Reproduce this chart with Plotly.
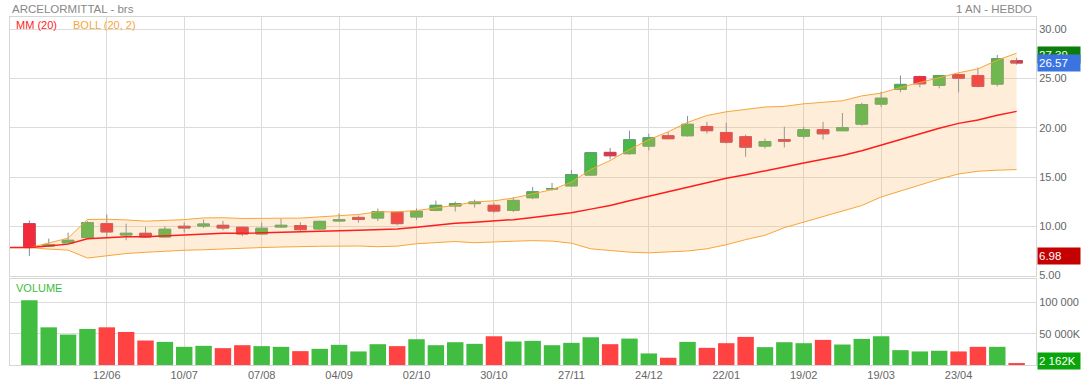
import plotly.graph_objects as go
import pandas as pd

# ---------------- data ----------------
opens = [10.27, 8.00, 8.31, 8.85, 10.27, 9.12, 9.29, 8.92, 10.00, 10.03,
         10.10, 9.90, 9.22, 9.93, 10.07, 9.73, 10.54, 10.90, 10.84, 11.42,
         10.95, 11.62, 12.06, 12.30, 12.13, 11.62, 12.90, 13.80, 14.10, 15.20,
         17.50, 17.37, 18.14, 19.19, 19.19, 20.13, 19.52, 19.09, 18.14, 18.80,
         19.15, 19.80, 19.70, 20.37, 22.40, 23.90, 25.20, 24.30, 25.40, 25.30,
         24.43, 26.80]
highs = [10.60, 8.75, 9.36, 10.55, 11.20, 10.27, 9.93, 10.00, 10.37, 10.68,
         10.55, 10.00, 10.37, 10.78, 10.40, 10.55, 11.31, 11.10, 11.80, 11.55,
         11.80, 12.60, 12.50, 12.70, 12.40, 12.95, 14.00, 14.40, 15.70, 17.50,
         17.95, 19.70, 19.40, 19.55, 21.20, 20.60, 20.50, 19.30, 18.90, 20.10,
         20.10, 20.60, 21.50, 22.55, 23.65, 25.30, 25.30, 25.30, 25.50, 26.10,
         27.39, 27.10]
lows = [6.98, 7.90, 8.25, 8.85, 8.90, 8.58, 8.85, 8.85, 9.36, 9.83,
        9.60, 9.00, 9.15, 9.83, 9.50, 9.65, 10.47, 10.37, 10.54, 10.10,
        10.64, 11.52, 11.50, 11.90, 11.35, 11.45, 12.75, 13.60, 14.00, 15.10,
        16.80, 17.25, 17.70, 18.80, 19.10, 19.40, 18.40, 17.06, 17.90, 18.00,
        18.90, 18.80, 19.70, 20.20, 22.10, 23.60, 24.10, 24.00, 23.60, 24.10,
        24.20, 26.40]
closes = [7.84, 8.15, 8.58, 10.37, 9.43, 9.29, 8.92, 9.70, 9.83, 10.23,
          9.83, 9.22, 9.80, 10.10, 9.66, 10.50, 10.67, 10.69, 11.49, 10.27,
          11.52, 12.13, 12.30, 12.46, 11.55, 12.63, 13.50, 13.82, 15.24, 17.47,
          17.16, 18.78, 18.99, 18.89, 20.35, 19.70, 18.54, 18.03, 18.60, 18.64,
          19.80, 19.39, 20.00, 22.36, 23.00, 24.40, 24.46, 25.30, 25.03, 24.20,
          27.00, 26.57]
volumes = [103700, 60300, 48700, 57700, 60300, 52900, 39200, 37000, 29100, 30700,
           27000, 31700, 30200, 29100, 22200, 25900, 32300, 21700, 33300, 30200,
           41300, 31700, 36500, 33900, 46000, 37600, 38600, 31700, 35400, 44400,
           33300, 42300, 18500, 11600, 37000, 27500, 34900, 45000, 28600, 36500,
           34900, 40200, 32800, 41800, 46000, 23800, 21700, 22800, 21700, 29100,
           29100, 2162]
tick_pos = [4, 8, 12, 16, 20, 24, 28, 32, 36, 40, 44, 48]
tick_labels = ["12/06", "10/07", "07/08", "04/09", "02/10", "30/10",
               "27/11", "24/12", "22/01", "19/02", "19/03", "23/04"]
price_ticks = [5, 10, 15, 20, 25, 30]
vol_ticks = [50000, 100000]
vol_tick_labels = ["50 000K", "100 000"]

# ---------------- derived ----------------
idx = list(range(len(closes)))
cs = pd.Series(closes)
ma = cs.rolling(20, min_periods=1).mean()
sd = cs.rolling(20, min_periods=1).std(ddof=0).fillna(0)
upper = ma + 2 * sd
lower = ma - 2 * sd
line_x = [-1] + idx
ext = lambda s: [float(s.iloc[0])] + [float(v) for v in s]

body_hi = [max(o, c) for o, c in zip(opens, closes)]
body_lo = [min(o, c) for o, c in zip(opens, closes)]
vol_colors = ["#41bd41" if i == 0 or closes[i] >= closes[i - 1] else "#ff4242" for i in idx]

GREEN = "#47b84a"
RED = "#f22a3a"
WICK = "#7d8fa5"
FONT = "Liberation Sans, Arial, sans-serif"

fig = go.Figure()

# Bollinger band
fig.add_trace(go.Scatter(x=line_x, y=ext(lower), mode="lines",
                         line=dict(color="#f7a538", width=1), hoverinfo="skip",
                         xaxis="x", yaxis="y"))
fig.add_trace(go.Scatter(x=line_x, y=ext(upper), mode="lines",
                         line=dict(color="#f7a538", width=1), fill="tonexty",
                         fillcolor="rgba(247,178,95,0.24)", hoverinfo="skip",
                         xaxis="x", yaxis="y"))
# moving average
fig.add_trace(go.Scatter(x=line_x, y=ext(ma), mode="lines",
                         line=dict(color="#ff1c1c", width=1.5), hoverinfo="skip",
                         xaxis="x", yaxis="y"))
# wicks
fig.add_trace(go.Candlestick(x=idx, open=opens, high=highs, low=lows, close=closes,
                             increasing=dict(line=dict(color=WICK, width=1), fillcolor=WICK),
                             decreasing=dict(line=dict(color=WICK, width=1), fillcolor=WICK),
                             whiskerwidth=0, xaxis="x", yaxis="y"))
# bodies
fig.add_trace(go.Candlestick(x=idx, open=opens, high=body_hi, low=body_lo, close=closes,
                             increasing=dict(line=dict(color="#5aa85c", width=1), fillcolor=GREEN),
                             decreasing=dict(line=dict(color="#d04050", width=1), fillcolor=RED),
                             whiskerwidth=0, xaxis="x", yaxis="y"))
# volume
fig.add_trace(go.Bar(x=idx, y=volumes, marker=dict(color=vol_colors, line=dict(width=0)),
                     xaxis="x2", yaxis="y2"))

grid = "#dcdcdc"
axis_common = dict(showgrid=True, gridcolor=grid, gridwidth=1, zeroline=False,
                   showline=True, linecolor="#d6d6d6", linewidth=1, mirror=True,
                   fixedrange=True, automargin=False)

fig.update_layout(
    width=1081, height=385,
    margin=dict(l=10, r=45, t=17, b=20, autoexpand=False),
    paper_bgcolor="white", plot_bgcolor="white",
    showlegend=False, boxgap=0.14, bargap=0.15,
    font=dict(family=FONT, size=11, color="#666666"),
    xaxis=dict(domain=[0, 1], range=[-1, 52], tickvals=tick_pos, showticklabels=False,
               rangeslider=dict(visible=False), anchor="y", **axis_common),
    yaxis=dict(domain=[0.257, 1], range=[5, 31.24], side="right", tickvals=price_ticks,
               tickformat=".2f", ticks="", anchor="x", **axis_common),
    xaxis2=dict(domain=[0, 1], range=[-1, 52], tickvals=tick_pos, ticktext=tick_labels,
                ticks="", anchor="y2", **axis_common),
    yaxis2=dict(domain=[0, 0.247], range=[0, 137600], side="right", tickvals=vol_ticks,
                ticktext=vol_tick_labels, ticks="", anchor="x2", **axis_common),
)

ann = []
ann.append(dict(text="ARCELORMITTAL - brs", xref="paper", yref="paper", x=0, y=1.023,
                xanchor="left", yanchor="middle", showarrow=False,
                font=dict(size=11.5, color="#888888")))
ann.append(dict(text="1 AN - HEBDO", xref="paper", yref="paper", x=0.998, y=1.023,
                xanchor="right", yanchor="middle", showarrow=False,
                font=dict(size=11.5, color="#888888")))
ann.append(dict(text="MM (20)", xref="paper", yref="paper", x=0.004, y=0.977,
                xanchor="left", yanchor="middle", showarrow=False,
                font=dict(size=11, color="#ff1c1c")))
ann.append(dict(text="BOLL (20, 2)", xref="paper", yref="paper", x=0.059, y=0.977,
                xanchor="left", yanchor="middle", showarrow=False,
                font=dict(size=11, color="#f7a538")))
ann.append(dict(text="VOLUME", xref="paper", yref="paper", x=0.004, y=0.221,
                xanchor="left", yanchor="middle", showarrow=False,
                font=dict(size=11, color="#3cbc3c")))

def tag(text, yv, yref, color, yshift=0):
    return dict(text=text, xref="paper", yref=yref, x=1.001, y=yv, xanchor="left",
                yanchor="middle", showarrow=False, bgcolor=color, width=40, height=14,
                align="left", borderpad=1, yshift=yshift,
                font=dict(size=11.5, color="white"))

ann.append(tag(f"{max(highs):.2f}", max(highs), "y", "#0a7d0a"))
ann.append(tag(f"{closes[-1]:.2f}", closes[-1], "y", "#3b74e0"))
ann.append(tag(f"{min(lows):.2f}", min(lows), "y", "#c40000"))
ann.append(tag(f"{volumes[-1]:,}".replace(",", " ") + "K", volumes[-1], "y2", "#0aa50a", yshift=3))
fig.update_layout(annotations=ann)

fig.write_html("out.html", config={"displayModeBar": False},
               post_script="document.body.style.margin='0';document.body.style.overflow='hidden';")
